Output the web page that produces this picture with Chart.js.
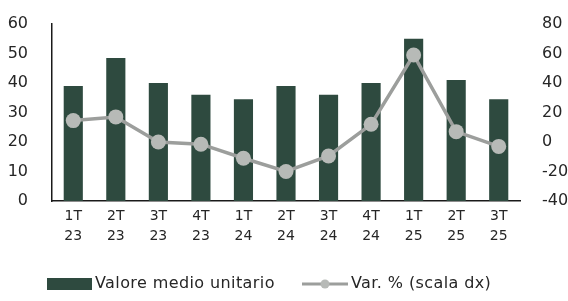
<!DOCTYPE html>
<html>
<head>
<meta charset="utf-8">
<script src="https://cdn.jsdelivr.net/npm/chart.js@4.4.1/dist/chart.umd.min.js"></script>
<style>
  html, body { margin: 0; padding: 0; background: #fff; }
  #wrap { width: 568px; height: 301px; position: relative; }
</style>
</head>
<body>
<div id="wrap"><canvas id="valoreChart"></canvas></div>
<script>
// quarters (two-line labels)
var quarters = [['1T','23'],['2T','23'],['3T','23'],['4T','23'],['1T','24'],['2T','24'],['3T','24'],['4T','24'],['1T','25'],['2T','25'],['3T','25']];
// Valore medio unitario (scala sx)
var valoreMedio = [39, 48.5, 40, 36, 34.5, 39, 36, 40, 55, 41, 34.5];
// Var. % (scala dx)
var varPerc = [14.5, 17, 0, -1.5, -11, -20, -9.5, 12, 59, 7, -3];

var barColor = '#2e4a3f';
var lineColor = '#9c9e9c';
var pointColor = '#b7bab7';
var textColor = '#262626';
var fontFamily = "'DejaVu Sans', sans-serif";

// legend drawn by hand: wide bar swatch + line with marker
var bottomLegend = {
    id: 'bottomLegend',
    afterDraw: function (chart) {
        var ctx = chart.ctx;
        var y = 284;
        ctx.save();
        ctx.fillStyle = barColor;
        ctx.fillRect(47, y - 6, 45, 12);

        ctx.font = '16px ' + fontFamily;
        ctx.letterSpacing = '0.4px';
        ctx.fillStyle = textColor;
        ctx.textBaseline = 'middle';
        ctx.fillText('Valore medio unitario', 95, y);

        ctx.strokeStyle = lineColor;
        ctx.lineWidth = 3;
        ctx.beginPath();
        ctx.moveTo(302, y);
        ctx.lineTo(348, y);
        ctx.stroke();
        ctx.fillStyle = pointColor;
        ctx.beginPath();
        ctx.arc(325, y, 4.5, 0, Math.PI * 2);
        ctx.fill();

        ctx.fillStyle = textColor;
        ctx.fillText('Var. % (scala dx)', 351, y);
        ctx.restore();
    }
};

var data = {
    labels: quarters,
    datasets: [{
        type: 'line',
        label: 'Var. % (scala dx)',
        data: varPerc,
        yAxisID: 'y1',
        borderColor: lineColor,
        borderWidth: 3.5,
        pointRadius: 7.5,
        pointBackgroundColor: pointColor,
        pointBorderWidth: 0,
        tension: 0,
        order: 0
    }, {
        type: 'bar',
        label: 'Valore medio unitario',
        data: valoreMedio,
        yAxisID: 'y',
        backgroundColor: barColor,
        barPercentage: 0.45,
        categoryPercentage: 1,
        order: 1
    }]
};

var options = {
    responsive: false,
    animation: false,
    layout: {
        padding: { top: 2, bottom: 55, left: 0, right: 0 }
    },
    plugins: {
        legend: { display: false },
        tooltip: { enabled: false }
    },
    scales: {
        x: {
            grid: { display: false },
            border: { display: true, color: '#1a1a1a', width: 1.5 },
            ticks: {
                autoSkip: false,
                maxRotation: 0,
                color: textColor,
                font: { family: fontFamily, size: 14, lineHeight: 1.4 },
                padding: -2
            },
            afterFit: function (scale) { scale.height = 45; }
        },
        y: {
            position: 'left',
            min: 0,
            max: 60,
            grid: { display: false },
            border: { display: true, color: '#1a1a1a', width: 1.5 },
            ticks: {
                stepSize: 10,
                color: textColor,
                font: { family: fontFamily, size: 16, lineHeight: 1 },
                padding: 16
            },
            afterFit: function (scale) { scale.width = 52; }
        },
        y1: {
            position: 'right',
            min: -40,
            max: 80,
            grid: { display: false },
            border: { display: false },
            ticks: {
                stepSize: 20,
                color: textColor,
                font: { family: fontFamily, size: 16, lineHeight: 1 },
                padding: 14
            },
            afterFit: function (scale) { scale.width = 48; }
        }
    }
};

var canvas = document.getElementById('valoreChart');
canvas.width = 568;
canvas.height = 301;
if (canvas) {
    var valoreChart = new Chart(canvas, {
        type: 'bar',
        data: data,
        options: options,
        plugins: [bottomLegend]
    });
} else {
    console.error("Canvas element not found");
}
</script>
</body>
</html>
